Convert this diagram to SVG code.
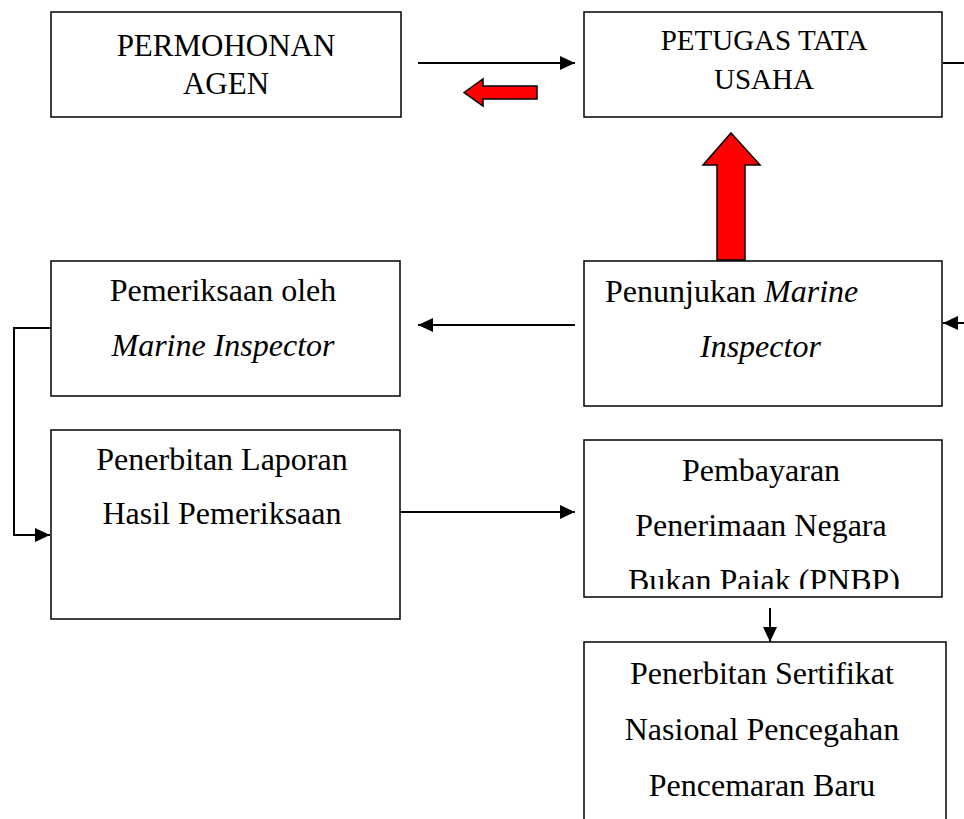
<svg xmlns="http://www.w3.org/2000/svg" width="964" height="819" viewBox="0 0 964 819">
<style>
.box{fill:#fff;stroke:#000;stroke-width:1.5}
.t{font-family:"Liberation Serif","Times New Roman",serif;font-size:32px;fill:#000;text-anchor:middle}
.i{font-style:italic}
.ln{fill:none;stroke:#000;stroke-width:2}
.blk{fill:#ff0000;stroke:#000;stroke-width:1.5;stroke-linejoin:miter}
</style>
<defs>
<marker id="ah" markerUnits="userSpaceOnUse" markerWidth="16" markerHeight="16" viewBox="0 0 16 16" refX="15" refY="8" orient="auto">
<path d="M0,1 L15,8 L0,15 Z" fill="#000"/>
</marker>
<clipPath id="clipPay"><rect x="585" y="441" width="357" height="148"/></clipPath>
</defs>
<rect width="964" height="819" fill="#fff"/>

<g id="n-permohonan">
<rect class="box" x="51" y="12" width="350" height="105"/>
<text class="t" x="226" y="56" style="font-size:31px">PERMOHONAN</text>
<text class="t" x="226" y="94" style="font-size:31px">AGEN</text>
</g>

<g id="n-petugas">
<rect class="box" x="584" y="12" width="358" height="105"/>
<text class="t" x="764" y="50" style="font-size:29px">PETUGAS TATA</text>
<text class="t" x="764" y="89" style="font-size:29px">USAHA</text>
</g>

<g id="n-pemeriksaan">
<rect class="box" x="51" y="261" width="349" height="135"/>
<text class="t" x="223" y="301">Pemeriksaan oleh</text>
<text class="t i" x="223" y="356">Marine Inspector</text>
</g>

<g id="n-penunjukan">
<rect class="box" x="584" y="261" width="358" height="145"/>
<text class="t" x="605" y="302" style="text-anchor:start">Penunjukan <tspan class="i">Marine</tspan></text>
<text class="t i" x="700" y="357" style="text-anchor:start">Inspector</text>
</g>

<g id="n-laporan">
<rect class="box" x="51" y="430" width="349" height="189"/>
<text class="t" x="222" y="470">Penerbitan Laporan</text>
<text class="t" x="222" y="524">Hasil Pemeriksaan</text>
</g>

<g id="n-pembayaran">
<rect class="box" x="584" y="440" width="358" height="157"/>
<g clip-path="url(#clipPay)">
<text class="t" x="761" y="481">Pembayaran</text>
<text class="t" x="761" y="536">Penerimaan Negara</text>
<text class="t" x="764" y="591">Bukan Pajak (PNBP)</text>
</g>
</g>

<g id="n-sertifikat">
<rect class="box" x="584" y="642" width="362" height="190"/>
<text class="t" x="762" y="684">Penerbitan Sertifikat</text>
<text class="t" x="762" y="740">Nasional Pencegahan</text>
<text class="t" x="762" y="796">Pencemaran Baru</text>
</g>

<g id="connectors">
<line class="ln" x1="418" y1="63" x2="575" y2="63" marker-end="url(#ah)"/>
<polygon class="blk" points="464,92.5 483,79 483,86 537,86 537,99 483,99 483,106"/>
<line class="ln" x1="943" y1="63" x2="964" y2="63"/>
<polygon class="blk" points="731,133 760,165 745,165 745,260 717,260 717,165 703,165"/>
<line class="ln" x1="964" y1="323" x2="943" y2="323" marker-end="url(#ah)"/>
<line class="ln" x1="575" y1="325" x2="418" y2="325" marker-end="url(#ah)"/>
<polyline class="ln" points="51,328 14,328 14,535 50,535" marker-end="url(#ah)"/>
<line class="ln" x1="400" y1="512" x2="575" y2="512" marker-end="url(#ah)"/>
<line class="ln" x1="770" y1="608" x2="770" y2="642" marker-end="url(#ah)"/>
</g>
</svg>
